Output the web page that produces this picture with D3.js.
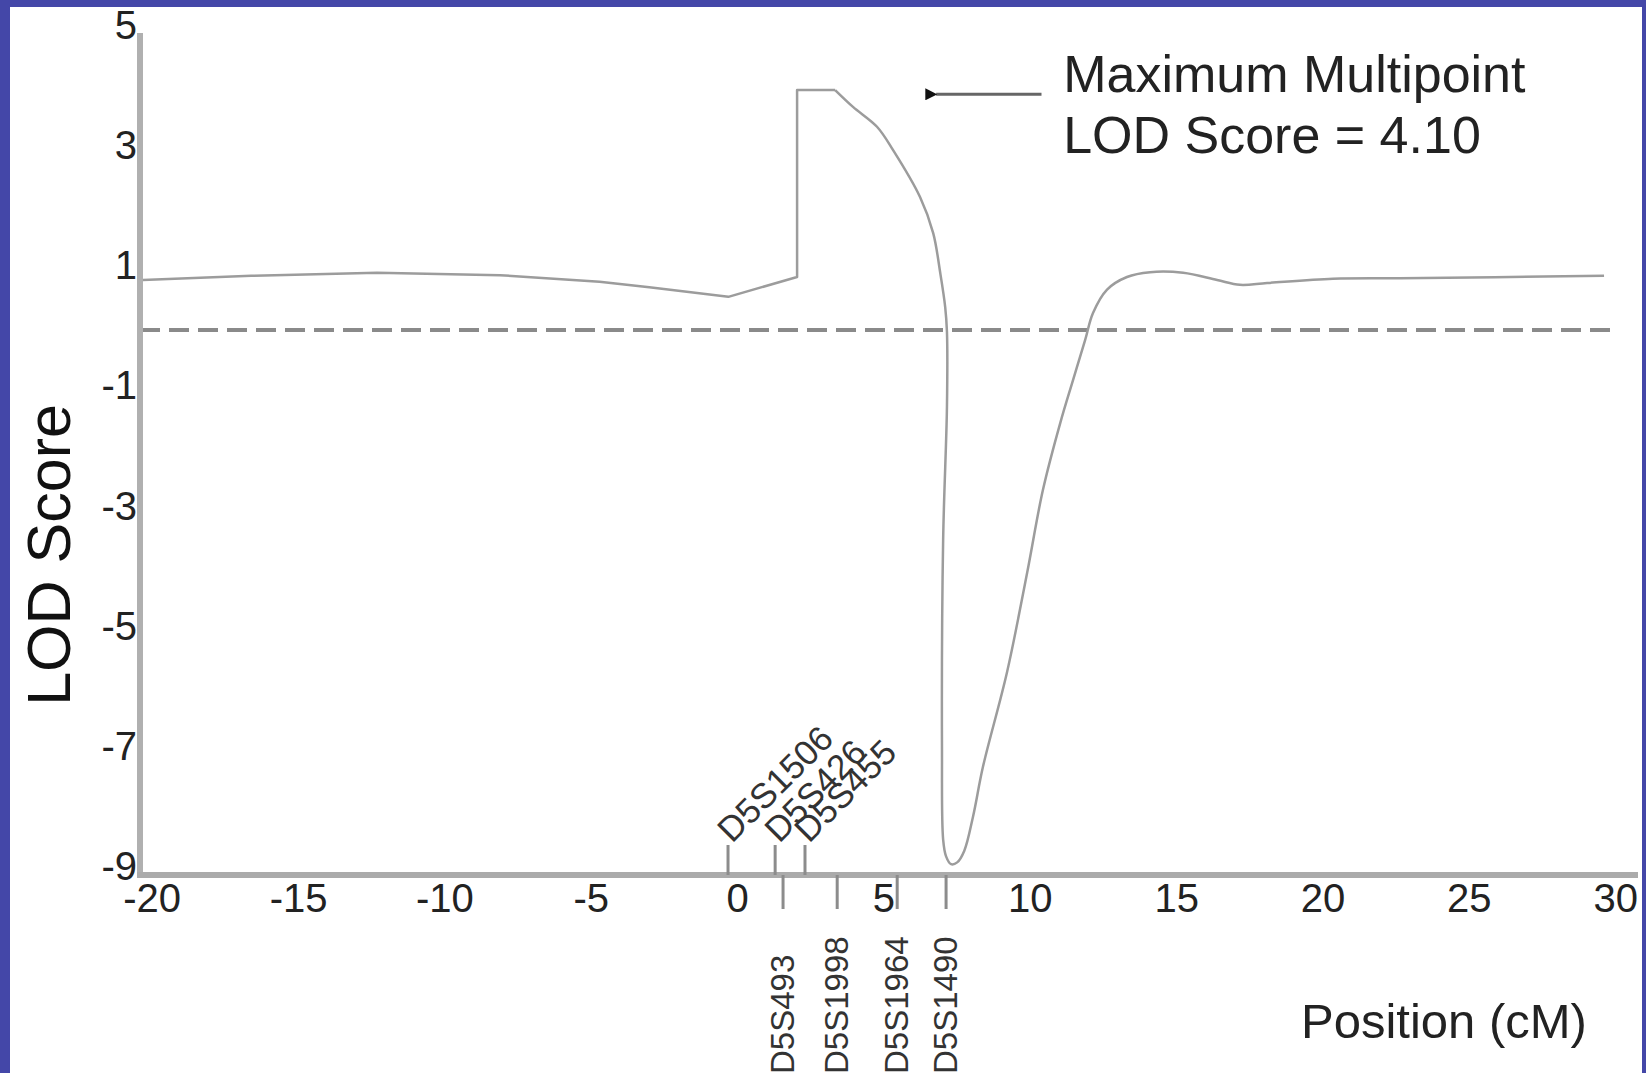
<!DOCTYPE html>
<html>
<head>
<meta charset="utf-8">
<script src="https://cdn.jsdelivr.net/npm/d3@7"></script>
<style>
  body { margin: 0; background: #4447a8; }
  svg { display: block; font-family: "Liberation Sans", Arial, sans-serif; }
</style>
</head>
<body>
<script>
// LOD curve (position in cM, LOD score)
const positions = [-20.3, -16.6, -12.3, -8.1, -4.7, -3.0, -0.3, 2.05, 2.05, 3.35, 3.96, 4.78, 5.33, 6.25, 6.70, 6.94, 7.11, 7.17, 7.17, 7.04, 7.00, 7.04, 7.14, 7.31, 7.52, 7.76, 8.06, 8.40, 9.22, 9.91, 10.45, 11.04, 11.48, 11.89, 12.16, 12.64, 13.32, 14.11, 15.24, 16.40, 17.18, 18.11, 20.36, 22.65, 29.62];
const lodScores = [0.83, 0.90, 0.95, 0.91, 0.80, 0.71, 0.55, 0.88, 3.99, 3.99, 3.71, 3.38, 2.99, 2.21, 1.61, 0.95, 0.38, -0.03, -1.28, -3.49, -6.98, -8.48, -8.76, -8.89, -8.86, -8.67, -8.10, -7.27, -5.70, -4.04, -2.66, -1.55, -0.83, -0.17, 0.28, 0.67, 0.88, 0.96, 0.95, 0.83, 0.75, 0.78, 0.85, 0.86, 0.90];
// the step up to the plateau is drawn straight, the rest smooth
const plateauEnd = 9;

// markers along the map
const markerNames = ["D5S1506", "D5S426", "D5S493", "D5S455", "D5S1998", "D5S1964", "D5S1490"];
const markerPositions = [-0.31, 1.30, 1.57, 2.32, 3.42, 5.47, 7.14];
const markerAbove = [true, true, false, true, false, false, false];

const xTicks = [-20, -15, -10, -5, 0, 5, 10, 15, 20, 25, 30];
const yTicks = [5, 3, 1, -1, -3, -5, -7, -9];
const threshold = 0;
const maxLod = "4.10";

const W = 1646, H = 1073;
const plotLeft = 140, plotTop = 33, plotRight = 1638, plotBottom = 875;

const data = positions.map((p, i) => ({ x: p, y: lodScores[i] }));

const svg = d3.select("body")
  .append("svg")
  .attr("width", W)
  .attr("height", H);

svg.append("rect")
  .attr("x", 10)
  .attr("y", 7)
  .attr("width", W - 14)
  .attr("height", H - 7)
  .attr("fill", "#fff");

const xScale = d3.scaleLinear()
  .domain([-20.4, 30.78])
  .range([plotLeft, plotRight]);

const yScale = d3.scaleLinear()
  .domain([-9.07, 4.94])
  .range([plotBottom, plotTop]);

// axes (plain hyphen minus like the original)
const xAxis = svg.append("g")
  .attr("transform", `translate(0, ${plotBottom})`)
  .call(d3.axisBottom(xScale).tickValues(xTicks).tickSize(0).tickPadding(9).tickFormat(d => String(d)));

const yAxis = svg.append("g")
  .attr("transform", `translate(${plotLeft}, 0)`)
  .call(d3.axisLeft(yScale).tickValues(yTicks).tickSize(0).tickPadding(3).tickFormat(d => String(d)));

[xAxis, yAxis].forEach(a => {
  a.select(".domain").remove();
  a.selectAll("text")
    .style("font-size", "40px")
    .style("font-family", "'Liberation Sans', Arial, sans-serif")
    .attr("fill", "#222");
});
xAxis.selectAll("text").attr("dy", "0.71em");
yAxis.selectAll("text").attr("dy", "0.22em");

// dashed zero line
svg.append("line")
  .attr("x1", plotLeft)
  .attr("x2", xScale(29.9))
  .attr("y1", yScale(threshold))
  .attr("y2", yScale(threshold))
  .attr("stroke", "#8a8a8a")
  .attr("stroke-width", 4)
  .attr("stroke-dasharray", "20 9");

// axis lines
svg.append("line")
  .attr("x1", plotLeft).attr("x2", plotLeft)
  .attr("y1", plotTop).attr("y2", plotBottom + 3)
  .attr("stroke", "#b0b0b0")
  .attr("stroke-width", 6);

svg.append("line")
  .attr("x1", plotLeft - 3).attr("x2", plotRight)
  .attr("y1", plotBottom).attr("y2", plotBottom)
  .attr("stroke", "#ababab")
  .attr("stroke-width", 6);

// marker ticks and names
const markers = svg.append("g")
  .selectAll("g")
  .data(markerNames.map((n, i) => ({ name: n, pos: markerPositions[i], above: markerAbove[i] })))
  .enter()
  .append("g");

markers.append("line")
  .attr("x1", d => xScale(d.pos))
  .attr("x2", d => xScale(d.pos))
  .attr("y1", plotBottom)
  .attr("y2", d => d.above ? plotBottom - 30 : plotBottom + 34)
  .attr("stroke", "#8c8c8c")
  .attr("stroke-width", 3);

markers.append("text")
  .attr("transform", d => d.above
    ? `translate(${xScale(d.pos) + 4}, ${plotBottom - 31}) rotate(-45)`
    : `translate(${xScale(d.pos) + 11}, ${H + 1}) rotate(-90)`)
  .attr("text-anchor", "start")
  .style("font-size", d => d.above ? "35px" : "33px")
  .attr("fill", "#333")
  .text(d => d.name);

// LOD curve
const straight = d3.line()
  .x(d => xScale(d.x))
  .y(d => yScale(d.y));

const smooth = d3.line()
  .x(d => xScale(d.x))
  .y(d => yScale(d.y))
  .curve(d3.curveCatmullRom.alpha(0.5));

[
  { part: data.slice(0, plateauEnd + 1), gen: straight },
  { part: data.slice(plateauEnd), gen: smooth }
].forEach(s => {
  svg.append("path")
    .datum(s.part)
    .attr("d", s.gen)
    .attr("fill", "none")
    .attr("stroke", "#9c9c9c")
    .attr("stroke-width", 2.5)
    .attr("stroke-linejoin", "round");
});

// annotation
svg.append("defs")
  .append("marker")
  .attr("id", "head")
  .attr("viewBox", "0 0 10 10")
  .attr("refX", 1)
  .attr("refY", 5)
  .attr("markerWidth", 4)
  .attr("markerHeight", 4)
  .attr("orient", "auto")
  .append("path")
  .attr("d", "M10,0 L0,5 L10,10 Z")
  .attr("fill", "#111");

svg.append("line")
  .attr("x1", xScale(10.4))
  .attr("x2", xScale(6.8))
  .attr("y1", yScale(3.92))
  .attr("y2", yScale(3.92))
  .attr("stroke", "#666")
  .attr("stroke-width", 3)
  .attr("marker-end", "url(#head)");

const note = svg.append("text")
  .attr("x", xScale(11.14))
  .attr("y", 92)
  .style("font-size", "52px")
  .attr("fill", "#222");
note.append("tspan").attr("x", xScale(11.14)).text("Maximum Multipoint");
note.append("tspan").attr("x", xScale(11.14)).attr("dy", 61).text(`LOD Score = ${maxLod}`);

// axis titles
svg.append("text")
  .attr("transform", `translate(70, 555) rotate(-90)`)
  .attr("text-anchor", "middle")
  .style("font-size", "61px")
  .attr("fill", "#111")
  .text("LOD Score");

svg.append("text")
  .attr("x", 1301)
  .attr("y", 1038)
  .style("font-size", "49px")
  .attr("fill", "#222")
  .text("Position (cM)");
</script>
</body>
</html>
